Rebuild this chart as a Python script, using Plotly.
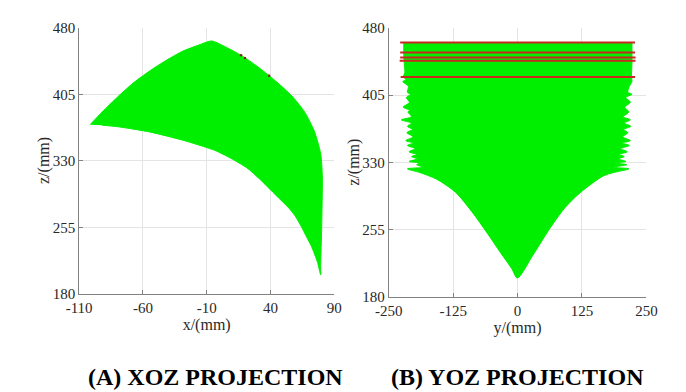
import plotly.graph_objects as go

# ---------------- data: XOZ projection outline (x mm, z mm) ----------------
xoz_upper_x = [-101.4, -91.9, -79.2, -66.6, -54.1, -41.5, -28.9, -16.3, -6.2,
               6.4, 19.0, 31.6, 44.1, 56.8, 66.8, 74.4, 79.4, 80.7, 80.2, 79.4, 79.4]
xoz_upper_z = [370.9, 385.3, 403.0, 419.0, 432.0, 443.5, 453.6, 460.5, 465.2,
               457.3, 447.2, 434.5, 420.0, 403.3, 385.3, 363.7, 338.5, 313.2, 255.6, 212.4, 201.6]
xoz_lower_x = [76.9, 72.0, 68.1, 64.3, 59.3, 54.3, 46.7, 40.4, 31.6, 21.5, 8.9, -3.7,
               -28.9, -54.1, -79.2, -91.9]
xoz_lower_z = [216.0, 234.4, 245.2, 255.9, 268.3, 277.2, 288.0, 297.0, 309.6, 322.3, 333.1, 342.0,
               353.5, 362.5, 368.5, 370.3]
xoz_dots_x = [17.0, 20.0, 39.0]
xoz_dots_z = [449.0, 446.0, 426.0]

# ---------------- data: YOZ projection outline (y mm, z mm) ----------------
yoz_left_z = [463.5, 450.0, 440.0, 430.0, 425.4, 422.0, 420.0, 414.7, 408.0, 405.8, 402.2,
              396.9, 391.5, 388.0, 386.2, 380.8, 377.3, 373.7, 370.1, 366.6, 363.0, 358.4,
              354.1, 351.6, 348.8, 345.2, 341.7, 338.8, 336.3, 333.8, 330.9, 329.2, 327.3,
              324.5, 322.7, 318.4]
yoz_left_y = [-221.0, -221.0, -220.0, -219.0, -222.0, -217.0, -223.0, -212.0, -214.0, -208.0, -216.0,
              -210.0, -222.0, -209.0, -213.0, -206.0, -226.0, -206.0, -214.0, -204.0, -215.0, -203.0,
              -217.0, -202.0, -214.0, -199.0, -211.0, -196.0, -206.0, -194.0, -210.7, -190.0, -196.0,
              -183.0, -213.9, -189.0]
yoz_bottom_y = [-157.8, -120.8, -89.5, -58.4, -33.3, -11.6, -0.4,
                29.0, 60.3, 91.4, 122.7, 166.4, 185.1]
yoz_bottom_z = [311.3, 296.7, 275.4, 250.5, 229.3, 211.6, 200.9,
                225.8, 254.2, 279.0, 296.7, 314.8, 318.4]
yoz_right_z = [322.7, 324.5, 327.3, 329.2, 330.9, 333.8, 336.3, 338.8, 341.7, 345.2, 348.8,
               351.6, 354.1, 358.4, 363.0, 366.6, 370.1, 373.7, 377.3, 380.8, 386.2, 391.5,
               396.9, 402.2, 405.8, 408.0, 414.7, 420.0, 425.4, 440.0, 450.0, 463.5]
yoz_right_y = [216.3, 186.0, 212.0, 190.0, 210.2, 195.0, 207.0, 198.0, 213.0, 200.0, 217.0,
               203.0, 219.0, 204.0, 214.0, 206.0, 220.0, 207.0, 219.0, 205.0, 216.0, 208.0,
               219.0, 210.0, 222.0, 214.0, 217.0, 222.0, 221.0, 222.0, 222.0, 222.0]
red_z = [463.7, 452.5, 446.8, 443.2, 425.0]
red_y_min = [-228.0, -228.0, -228.0, -229.0, -227.0]
red_y_max = [228.0, 228.0, 229.0, 229.0, 228.0]

# ticks
x_ticks = [-110, -60, -10, 40, 90]
x_tick_labels = ["-110", "-60", "-10", "40", "90"]
y_ticks = [-250, -125, 0, 125, 250]
y_tick_labels = ["-250", "-125", "0", "125", "250"]
z_ticks = [180, 255, 330, 405, 480]
z_tick_labels = ["180", "255", "330", "405", "480"]

GREEN = "rgb(0,238,0)"
RED = "rgb(200,40,30)"
FONT = "Liberation Serif"
TXT = "rgb(40,40,40)"
W, H = 686, 392

fig = go.Figure()

# XOZ crescent
fig.add_trace(go.Scatter(
    x=xoz_upper_x + xoz_lower_x, y=xoz_upper_z + xoz_lower_z,
    mode="lines", fill="toself", fillcolor=GREEN,
    line=dict(color=GREEN, width=1, shape="spline", smoothing=0.6),
    xaxis="x", yaxis="y", showlegend=False, hoverinfo="skip"))
fig.add_trace(go.Scatter(
    x=xoz_dots_x, y=xoz_dots_z, mode="markers",
    marker=dict(color="rgb(120,40,20)", size=2.5), xaxis="x", yaxis="y",
    showlegend=False, hoverinfo="skip"))

# YOZ body
poly_y = yoz_left_y + yoz_bottom_y + yoz_right_y
poly_z = yoz_left_z + yoz_bottom_z + yoz_right_z
fig.add_trace(go.Scatter(
    x=poly_y, y=poly_z, mode="lines", fill="toself", fillcolor=GREEN,
    line=dict(color=GREEN, width=1, shape="spline", smoothing=0.8), xaxis="x2", yaxis="y2",
    showlegend=False, hoverinfo="skip"))

# red lines
for zz, a, b in zip(red_z, red_y_min, red_y_max):
    fig.add_trace(go.Scatter(
        x=[a, b], y=[zz, zz], mode="lines", line=dict(color=RED, width=2),
        xaxis="x2", yaxis="y2", showlegend=False, hoverinfo="skip"))

axis_common = dict(
    showgrid=True, gridcolor="rgb(228,228,228)", gridwidth=1,
    showline=True, linecolor="rgb(130,130,130)", linewidth=1,
    ticks="inside", ticklen=4, tickcolor="rgb(130,130,130)",
    tickfont=dict(family=FONT, size=15, color=TXT),
    zeroline=False, mirror=False,
)
title_font = dict(family=FONT, size=16, color=TXT)

fig.update_layout(
    width=W, height=H,
    margin=dict(l=0, r=0, t=0, b=0),
    paper_bgcolor="white", plot_bgcolor="white",
    xaxis=dict(domain=[59.3 / W, 324 / W], range=[-110, 90],
               tickvals=x_ticks, ticktext=x_tick_labels,
               title=dict(text="x/(mm)", font=title_font, standoff=0),
               anchor="y", **axis_common),
    yaxis=dict(domain=[1 - 290 / H, 1 - 12.3 / H], range=[180, 480],
               tickvals=z_ticks, ticktext=z_tick_labels,
               anchor="x", **axis_common),
    xaxis2=dict(domain=[380.7 / W, 648 / W], range=[-250, 250],
                tickvals=y_ticks, ticktext=y_tick_labels,
                title=dict(text="y/(mm)", font=title_font, standoff=0),
                anchor="y2", **axis_common),
    yaxis2=dict(domain=[1 - 292.7 / H, 1 - 12.3 / H], range=[180, 480],
                tickvals=z_ticks, ticktext=z_tick_labels,
                anchor="x2", **axis_common),
    annotations=[
        dict(text="z/(mm)", x=23 / W, y=1 - 151 / H, xref="paper", yref="paper",
             showarrow=False, xanchor="center", yanchor="middle", textangle=-90,
             font=title_font),
        dict(text="z/(mm)", x=345 / W, y=1 - 152.5 / H, xref="paper", yref="paper",
             showarrow=False, xanchor="center", yanchor="middle", textangle=-90,
             font=title_font),
        dict(text="<b>(A) XOZ PROJECTION</b>", x=200.5 / W, y=1 - 376.7 / H, xref="paper", yref="paper",
             showarrow=False, xanchor="center", yanchor="middle",
             font=dict(family=FONT, size=24, color="black")),
        dict(text="<b>(B) YOZ PROJECTION</b>", x=514 / W, y=1 - 376.7 / H, xref="paper", yref="paper",
             showarrow=False, xanchor="center", yanchor="middle",
             font=dict(family=FONT, size=24, color="black")),
    ],
)

fig.write_html("out.html")
